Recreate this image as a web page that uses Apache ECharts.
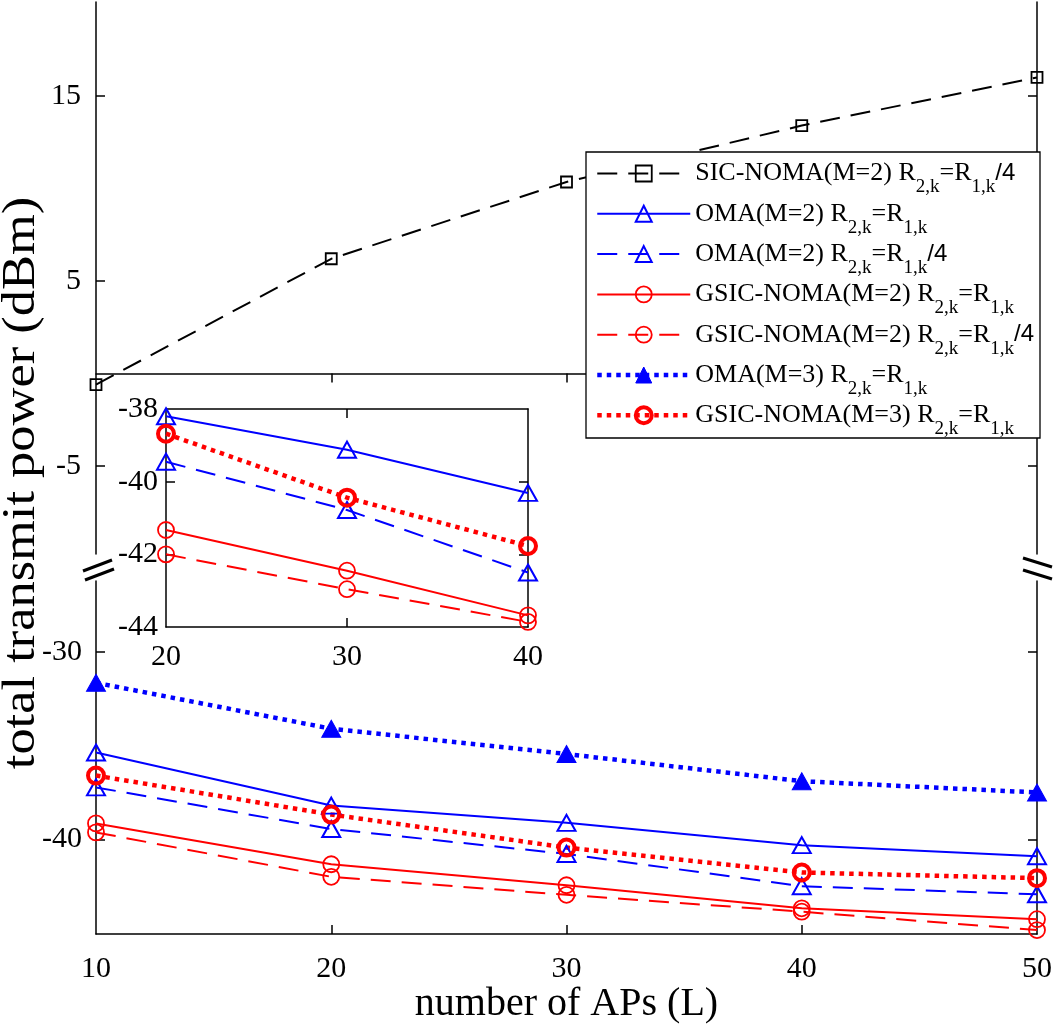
<!DOCTYPE html>
<html><head><meta charset="utf-8">
<script src="https://cdn.jsdelivr.net/npm/echarts@6/dist/echarts.min.js"></script>
<style>html,body{margin:0;padding:0;background:#fff}#chart{width:1056px;height:1028px}</style>
</head><body><div id="chart"></div>
<script>
// ---------- data ----------
const apCounts = [10, 20, 30, 40, 50];
const sicNomaM2Quarter = [-0.6, 6.2, 10.35, 13.4, 16.0];
const omaM2Equal = [-35.37, -38.2, -39.12, -40.31, -40.9];
const omaM2Quarter = [-37.23, -39.45, -40.78, -42.5, -42.93];
const gsicNomaM2Equal = [-39.15, -41.33, -42.45, -43.68, -44.26];
const gsicNomaM2Quarter = [-39.63, -42.0, -42.96, -43.86, -44.84];
const omaM3Equal = [-31.65, -34.1, -35.45, -36.9, -37.5];
const gsicNomaM3Equal = [-36.6, -38.68, -40.44, -41.77, -42.07];
const insetIdx = [1, 2, 3]; // L = 20, 30, 40 shown in the inset
const xTicks = [10, 20, 30, 40, 50];
const upperYTicks = [15, 5, -5];
const lowerYTicks = [-30, -40];
const insetXTicks = [20, 30, 40];
const insetYTicks = [-44, -42, -40, -38];
const seriesNames = [
  'SIC-NOMA(M=2) R2,k=R1,k/4',
  'OMA(M=2) R2,k=R1,k',
  'OMA(M=2) R2,k=R1,k/4',
  'GSIC-NOMA(M=2) R2,k=R1,k',
  'GSIC-NOMA(M=2) R2,k=R1,k/4',
  'OMA(M=3) R2,k=R1,k',
  'GSIC-NOMA(M=3) R2,k=R1,k'
];
const legendRich = [
  'SIC-NOMA(M=2) R{s|2,k}=R{s|1,k}{q|/4}',
  'OMA(M=2) R{s|2,k}=R{s|1,k}',
  'OMA(M=2) R{s|2,k}=R{s|1,k}{q|/4}',
  'GSIC-NOMA(M=2) R{s|2,k}=R{s|1,k}',
  'GSIC-NOMA(M=2) R{s|2,k}=R{s|1,k}{q|/4}',
  'OMA(M=3) R{s|2,k}=R{s|1,k}',
  'GSIC-NOMA(M=3) R{s|2,k}=R{s|1,k}'
];

// ---------- styling helpers ----------
const SERIF = 'Liberation Serif';
const BLUE = '#0000FF', RED = '#FF0000', BLACK = '#000000';
const CLEAR = 'rgba(0,0,0,0)';
const DASH = [20, 11];
const DOT = [4.5, 5];
const zip = (xs, ys) => xs.map((x, i) => [x, ys[i]]);
const pick = (arr, idx) => idx.map(i => arr[i]);

const styles = [
  {color: BLACK, type: DASH, width: 2, symbol: 'rect', size: 11, fill: CLEAR, bw: 1.8},
  {color: BLUE, type: 'solid', width: 2, symbol: 'triangle', size: [18, 16], fill: CLEAR, bw: 2},
  {color: BLUE, type: DASH, width: 2, symbol: 'triangle', size: [18, 16], fill: CLEAR, bw: 2},
  {color: RED, type: 'solid', width: 2, symbol: 'circle', size: 16, fill: CLEAR, bw: 1.8},
  {color: RED, type: DASH, width: 2, symbol: 'circle', size: 16, fill: CLEAR, bw: 1.8},
  {color: BLUE, type: DOT, width: 4.5, symbol: 'triangle', size: [19, 17], fill: BLUE, bw: 1},
  {color: RED, type: DOT, width: 4.5, symbol: 'circle', size: 16, fill: CLEAR, bw: 4}
];
function mkSeries(k, data, xi, yi) {
  const s = styles[k];
  return {
    type: 'line', name: seriesNames[k], xAxisIndex: xi, yAxisIndex: yi,
    data: data, clip: false, animation: false,
    symbol: s.symbol, symbolSize: s.size, showAllSymbol: true,
    lineStyle: {color: s.color, width: s.width, type: s.type},
    itemStyle: {color: s.fill, borderColor: s.color, borderWidth: s.bw},
    emphasis: {disabled: true}
  };
}
const mainData = [sicNomaM2Quarter, omaM2Equal, omaM2Quarter, gsicNomaM2Equal, gsicNomaM2Quarter, omaM3Equal, gsicNomaM3Equal];

const series = [];
series.push(mkSeries(0, zip(apCounts, mainData[0]), 0, 0));
for (let k = 1; k < 7; k++) series.push(mkSeries(k, zip(apCounts, mainData[k]), 1, 2));
[1, 2, 6, 3, 4].forEach(k => series.push(mkSeries(k, zip(pick(apCounts, insetIdx), pick(mainData[k], insetIdx)), 2, 4)));

const legendData = seriesNames.map((n, k) => ({
  name: n,
  itemStyle: {color: styles[k].fill, borderColor: styles[k].color, borderWidth: styles[k].bw},
  lineStyle: {color: styles[k].color, width: styles[k].width, type: styles[k].type}
}));

const lineAx = {show: true, lineStyle: {color: BLACK, width: 1.5}};
const tickIn = (vals) => ({show: true, inside: true, length: 9, lineStyle: {color: BLACK, width: 1.5}, customValues: vals});
const noLab = {show: false};
const lab = (vals, margin) => ({show: true, customValues: vals, margin: margin, color: BLACK, fontFamily: SERIF, fontSize: 30});

const option = {
  backgroundColor: '#fff',
  animation: false,
  grid: [
    {left: 96, top: 2, width: 941, height: 552},
    {left: 96, top: 581, width: 941, height: 353},
    {left: 166, top: 409, width: 362, height: 218, show: true, backgroundColor: '#fff', borderWidth: 0}
  ],
  xAxis: [
    {gridIndex: 0, type: 'value', min: 10, max: 50, position: 'top', axisLine: lineAx, axisTick: tickIn([20, 30, 40]), axisLabel: noLab, splitLine: {show: false}},
    {gridIndex: 1, type: 'value', min: 10, max: 50, position: 'bottom', axisLine: lineAx, axisTick: tickIn([20, 30, 40]), axisLabel: lab(xTicks, 20), splitLine: {show: false},
     name: 'number of APs (L)', nameLocation: 'middle', nameGap: 44, nameTextStyle: {fontFamily: SERIF, fontSize: 40, color: BLACK}},
    {gridIndex: 2, type: 'value', min: 20, max: 40, position: 'bottom', axisLine: lineAx, axisTick: tickIn([30]), axisLabel: lab(insetXTicks, 15), splitLine: {show: false}},
    {gridIndex: 2, type: 'value', min: 20, max: 40, position: 'top', axisLine: lineAx, axisTick: tickIn([30]), axisLabel: noLab, splitLine: {show: false}}
  ],
  yAxis: [
    {gridIndex: 0, type: 'value', min: -9.76, max: 20.08, position: 'left', axisLine: lineAx, axisTick: tickIn(upperYTicks), axisLabel: lab(upperYTicks, 15), splitLine: {show: false}},
    {gridIndex: 0, type: 'value', min: -9.76, max: 20.08, position: 'right', axisLine: lineAx, axisTick: tickIn(upperYTicks), axisLabel: noLab, splitLine: {show: false}},
    {gridIndex: 1, type: 'value', min: -45.05, max: -26.22, position: 'left', axisLine: lineAx, axisTick: tickIn(lowerYTicks), axisLabel: lab(lowerYTicks, 14), splitLine: {show: false}},
    {gridIndex: 1, type: 'value', min: -45.05, max: -26.22, position: 'right', axisLine: lineAx, axisTick: tickIn(lowerYTicks), axisLabel: noLab, splitLine: {show: false}},
    {gridIndex: 2, type: 'value', min: -44, max: -38, interval: 2, position: 'left', axisLine: lineAx, axisTick: tickIn([-42, -40]), axisLabel: lab(insetYTicks, 8), splitLine: {show: false}},
    {gridIndex: 2, type: 'value', min: -44, max: -38, interval: 2, position: 'right', axisLine: lineAx, axisTick: tickIn([-42, -40]), axisLabel: noLab, splitLine: {show: false}}
  ],
  legend: {
    data: legendData, orient: 'vertical', left: 595, top: 150, padding: 0, z: 10,
    itemWidth: 93, itemHeight: 20, itemGap: -6.7, itemTextGap: 9, selectedMode: false,
    formatter: (name) => legendRich[seriesNames.indexOf(name)],
    textStyle: {fontFamily: SERIF, fontSize: 26, lineHeight: 47, color: BLACK,
      rich: {s: {fontFamily: SERIF, fontSize: 19, lineHeight: 19, verticalAlign: 'bottom', color: BLACK},
             q: {fontFamily: 'Liberation Sans', fontSize: 24, lineHeight: 47, color: BLACK}}}
  },
  graphic: [
    {type: 'rect', z: 5, shape: {x: 586, y: 152, width: 454, height: 286}, style: {fill: '#fff', stroke: BLACK, lineWidth: 1.3}},
    {type: 'text', z: 5, x: 22, y: 483, rotation: Math.PI / 2, scaleX: 1.14,
     style: {text: 'total transmit power (dBm)', fontFamily: SERIF, fontSize: 46, fill: BLACK, align: 'center', verticalAlign: 'middle'}},
    {type: 'line', z: 5, shape: {x1: 83, y1: 571, x2: 112, y2: 560}, style: {stroke: BLACK, lineWidth: 3}},
    {type: 'line', z: 5, shape: {x1: 85, y1: 580, x2: 114, y2: 569}, style: {stroke: BLACK, lineWidth: 3}},
    {type: 'line', z: 5, shape: {x1: 1023, y1: 558, x2: 1052, y2: 567}, style: {stroke: BLACK, lineWidth: 3}},
    {type: 'line', z: 5, shape: {x1: 1023, y1: 570, x2: 1052, y2: 579}, style: {stroke: BLACK, lineWidth: 3}}
  ],
  series: series
};
const chart = echarts.init(document.getElementById('chart'), null, {renderer: 'canvas'});
chart.setOption(option);
</script></body></html>
